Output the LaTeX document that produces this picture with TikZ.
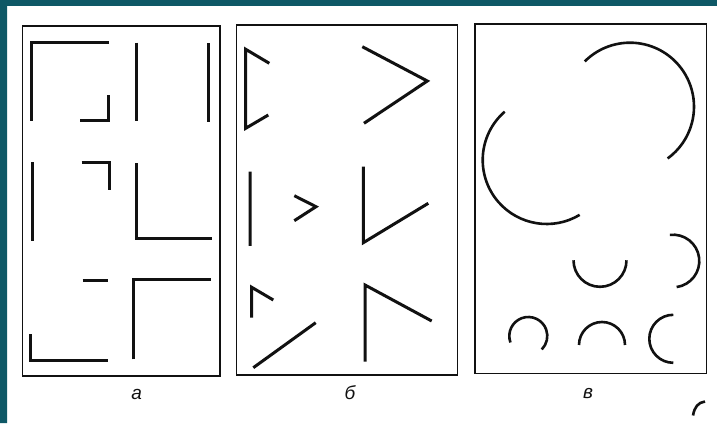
\documentclass[tikz,border=0pt]{standalone}
\usepackage{fontspec}
\setmainfont{Liberation Sans}
\usetikzlibrary{positioning}
\definecolor{cFrame}{HTML}{0E5866}
\definecolor{cInk}{HTML}{111111}
\tikzset{
  frame/.style={fill=cFrame,draw=none},
  panel/.style={draw=cInk,line width=1.3pt},
  bar/.style={line width=3pt,cInk},
  arcl/.style={line width=2.6pt,cInk},
  lbl/.style={font=\fontsize{19}{21}\selectfont\itshape,text=cInk,inner sep=0pt},
}

\begin{document}
\begin{tikzpicture}[x=1pt,y=1pt]
  \useasboundingbox (0,0) rectangle (717,423);
  \fill[white] (0,0) rectangle (717,423);
  \path[frame] (0,417) rectangle (717,423) (0,0) rectangle (7,423);
  \draw[panel] (22.5,47) rectangle (220,397);
  \draw[panel] (236.5,48) rectangle (457.5,398);
  \draw[panel] (475,49.7) rectangle (706.7,399);
  \draw[bar] (109,380.3)--(31,380.3)--(31,302.3) (80,302.3)--(108.3,302.3)--(108.3,328);
  \draw[bar] (136,380.3)--(136,302.3) (208.3,379.7)--(208.3,301.3);
  \draw[bar] (32.3,260.7)--(32.3,182.3) (81.7,260.7)--(109.3,260.7)--(109.3,233);
  \draw[bar] (136.7,259.7)--(136.7,184)--(211.7,184);
  \draw[bar] (82.7,142)--(108.3,142) (133.3,63.7)--(133.3,143.7)--(210.7,143.7);
  \draw[bar] (30,88.7)--(30,62.3)--(107.7,62.3);
  \draw[bar] (269.3,359.7)--(245.7,373.7)--(245.7,294.7)--(268.3,308);
  \draw[bar] (362.3,376.3)--(427.3,342)--(364,299.7);
  \draw[bar] (250,251.3)--(250,177) (294.3,227.3)--(316,216.3)--(294.3,202.3);
  \draw[bar] (363.3,256.3)--(363.3,180.3)--(428.3,219.7);
  \draw[bar] (251.7,105.3)--(251.7,135.7)--(273.3,123) (253.3,55.3)--(315.7,100.3);
  \draw[bar] (365,61.3)--(365,138)--(431.7,102);
  \foreach \cx/\cy/\r/\a/\b in {630/316.3/64/135/-54,546.7/263/64/131/301,600/162.7/26.5/180/360,673/162/26.3/97/-82,528.3/87/19/200/-45,602/78/23/180/0,673.3/84.2/24/90/270}{
    \draw[arcl] (\cx,\cy) ++(\a:\r) arc[start angle=\a,end angle=\b,radius=\r];
  }
  \node[lbl] (la) at (136.7,28.5) {а};
  \node[lbl] (lb) at (350,30) {б};
  \node[lbl] (lv) at (588,29.5) {в};
  \draw[bar,line width=2.6pt] (693,7.5) .. controls (694.5,16) and (698,20.5) .. (705,21.5);
\end{tikzpicture}
\end{document}
